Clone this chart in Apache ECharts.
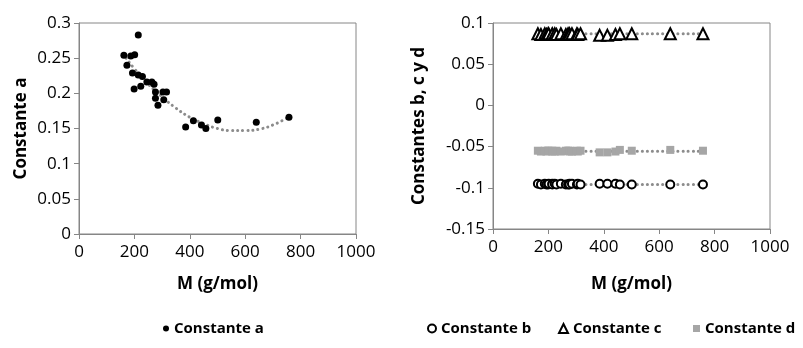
<!DOCTYPE html>
<html>
<head>
<meta charset="utf-8">
<script src="https://cdn.jsdelivr.net/npm/echarts@6/dist/echarts.min.js"></script>
<style>
  html, body { margin: 0; padding: 0; background: #fff; }
  #chart { width: 803px; height: 348px; }
</style>
</head>
<body>
<div id="chart"></div>
<script>
// masa molar de cada compuesto (g/mol)
const masaMolar = [162, 173, 187, 193, 199, 201, 214, 214, 223, 229, 245, 263, 271, 276, 276, 285, 303, 306, 316, 385, 413, 442, 458, 501, 640, 758];
const constA = [0.254, 0.240, 0.253, 0.229, 0.206, 0.255, 0.283, 0.226, 0.210, 0.224, 0.216, 0.216, 0.213, 0.202, 0.193, 0.183, 0.202, 0.191, 0.202, 0.152, 0.161, 0.155, 0.150, 0.162, 0.159, 0.166];
const constB = [-0.095, -0.096, -0.095, -0.096, -0.096, -0.095, -0.095, -0.096, -0.095, -0.096, -0.095, -0.096, -0.096, -0.095, -0.096, -0.095, -0.096, -0.095, -0.096, -0.095, -0.095, -0.095, -0.096, -0.096, -0.096, -0.096];
const constC = [0.087, 0.086, 0.087, 0.086, 0.087, 0.087, 0.086, 0.087, 0.087, 0.086, 0.087, 0.086, 0.087, 0.087, 0.086, 0.087, 0.087, 0.086, 0.087, 0.085, 0.085, 0.086, 0.087, 0.087, 0.087, 0.087];
const constD = [-0.055, -0.056, -0.055, -0.056, -0.055, -0.055, -0.056, -0.055, -0.056, -0.055, -0.056, -0.055, -0.055, -0.056, -0.055, -0.056, -0.055, -0.056, -0.055, -0.057, -0.057, -0.056, -0.054, -0.055, -0.054, -0.055];

// lineas de tendencia
const tendM = [170, 200, 250, 300, 350, 400, 450, 500, 550, 600, 650, 700, 760];
const tendA = [0.250, 0.235, 0.213, 0.195, 0.179, 0.166, 0.157, 0.150, 0.147, 0.147, 0.149, 0.155, 0.167];
const tendMLin = [170, 760];
const tendB = [-0.096, -0.096];
const tendC = [0.087, 0.087];
const tendD = [-0.0555, -0.0555];

const pares = (xs, ys) => xs.map((x, i) => [x, ys[i]]);

const FONT = 'Open Sans';
const gris = '#868686';
const titulo = { fontFamily: FONT, fontWeight: 'bold', fontSize: 17, color: '#000' };

const ejeX = idx => ({
  type: 'value', gridIndex: idx, min: 0, max: 1000, interval: 200,
  name: 'M (g/mol)', nameLocation: 'middle', nameGap: idx === 0 ? 42 : 47,
  nameTextStyle: titulo,
  axisLine: { onZero: false, lineStyle: { color: gris } },
  axisTick: { show: true, length: 5, lineStyle: { color: gris } },
  axisLabel: { fontFamily: FONT, fontSize: 17, color: '#000', margin: 10, formatter: v => String(v) },
  splitLine: { show: false }
});

const punteado = { color: '#8c8c8c', width: 3, type: [0.1, 5], cap: 'round' };

const tendencia = (x, y, idx) => ({
  type: 'line', xAxisIndex: idx, yAxisIndex: idx, data: pares(x, y),
  smooth: true, symbol: 'none', silent: true, z: 1,
  lineStyle: punteado
});

const leyenda = (left, name, icon, size) => ({
  left, top: 316, itemWidth: size, itemHeight: size,
  textStyle: { fontFamily: FONT, fontWeight: 'bold', fontSize: 15, color: '#000' },
  data: [{ name, icon }]
});

const chart = echarts.init(document.getElementById('chart'));
chart.setOption({
  animation: false,
  grid: [
    { left: 79, top: 23, width: 277, height: 211, show: true, borderColor: gris, borderWidth: 1 },
    { left: 493, top: 23, width: 277, height: 206, show: true, borderColor: gris, borderWidth: 1 }
  ],
  legend: [
    leyenda(158, 'Constante a', 'circle', 6),
    leyenda(422, 'Constante b', 'emptyCircle', 8),
    leyenda(553, 'Constante c', 'emptyTriangle', 9),
    leyenda(688, 'Constante d', 'rect', 7)
  ],
  xAxis: [ejeX(0), ejeX(1)],
  yAxis: [
    {
      type: 'value', gridIndex: 0, min: 0, max: 0.3, interval: 0.05,
      name: 'Constante a', nameLocation: 'middle', nameGap: 49,
      nameTextStyle: titulo,
      axisLine: { show: true, lineStyle: { color: gris } },
      axisTick: { show: true, length: 5, lineStyle: { color: gris } },
      axisLabel: { fontFamily: FONT, fontSize: 17, color: '#000', margin: 8 },
      splitLine: { show: false }
    },
    {
      type: 'value', gridIndex: 1, min: -0.15, max: 0.1, interval: 0.05,
      name: 'Constantes b, c y d', nameLocation: 'middle', nameGap: 65,
      nameTextStyle: titulo,
      axisLine: { show: true, onZero: false, lineStyle: { color: gris } },
      axisTick: { show: true, length: 5, lineStyle: { color: gris } },
      axisLabel: { fontFamily: FONT, fontSize: 17, color: '#000', margin: 8 },
      splitLine: { show: false }
    }
  ],
  series: [
    tendencia(tendM, tendA, 0),
    tendencia(tendMLin, tendB, 1),
    tendencia(tendMLin, tendC, 1),
    tendencia(tendMLin, tendD, 1),
    {
      name: 'Constante a', type: 'scatter', xAxisIndex: 0, yAxisIndex: 0,
      data: pares(masaMolar, constA), symbol: 'circle', symbolSize: 7,
      itemStyle: { color: '#000', opacity: 1 }, z: 3
    },
    {
      name: 'Constante b', type: 'scatter', xAxisIndex: 1, yAxisIndex: 1,
      data: pares(masaMolar, constB), symbol: 'emptyCircle', symbolSize: 8,
      itemStyle: { color: '#000', borderWidth: 1.5, opacity: 1 }, z: 3
    },
    {
      name: 'Constante c', type: 'scatter', xAxisIndex: 1, yAxisIndex: 1,
      data: pares(masaMolar, constC), symbol: 'emptyTriangle', symbolSize: 11,
      itemStyle: { color: '#000', borderWidth: 1.5, opacity: 1 }, z: 3
    },
    {
      name: 'Constante d', type: 'scatter', xAxisIndex: 1, yAxisIndex: 1,
      data: pares(masaMolar, constD), symbol: 'rect', symbolSize: 8,
      itemStyle: { color: '#a6a6a6', opacity: 1 }, z: 3
    }
  ]
});
</script>
</body>
</html>
